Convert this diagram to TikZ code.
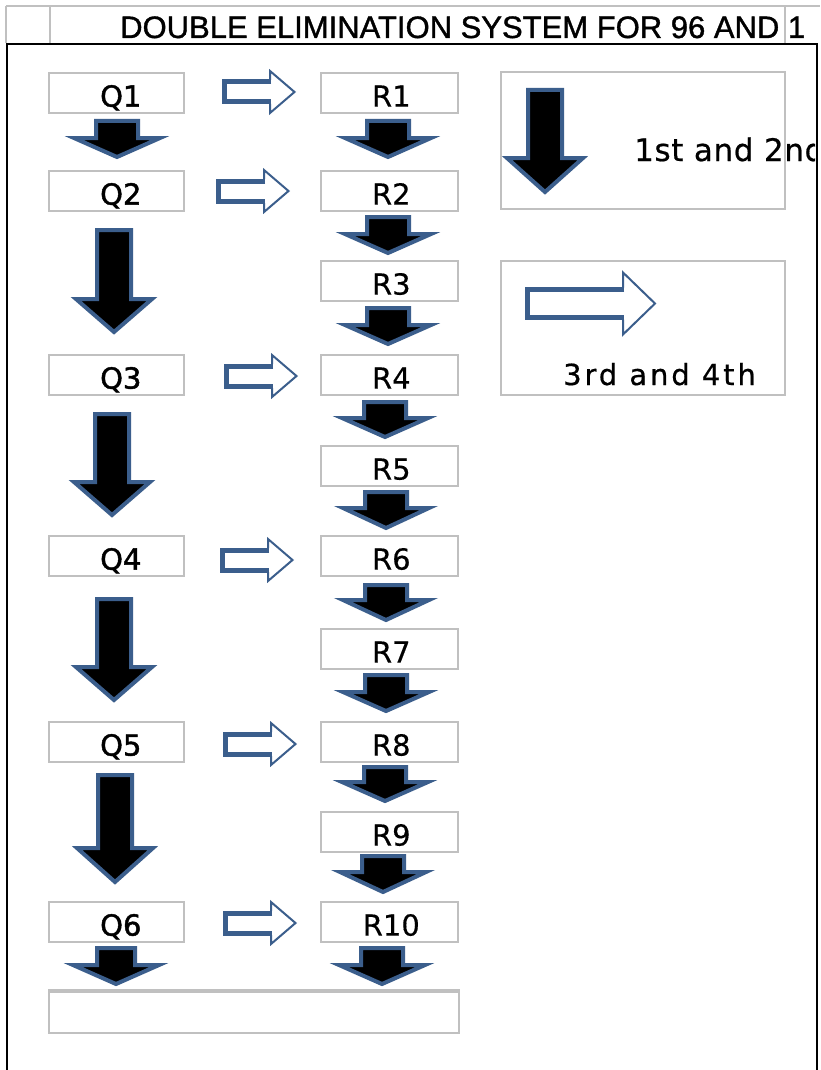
\documentclass[tikz,border=0pt]{standalone}
\usepackage{fontspec}
\setmainfont{DejaVu Sans}
\newfontfamily\titlefont[FakeBold=1.2]{Liberation Sans}
\newfontfamily\qfont[FakeBold=1.5]{DejaVu Sans}
\newfontfamily\rfont[FakeBold=0.4]{DejaVu Sans}
\newfontfamily\legfont[LetterSpace=2,FakeBold=0.6]{DejaVu Sans}
\newfontfamily\legspfont[LetterSpace=10,FakeBold=0.6]{DejaVu Sans}
\definecolor{arrblue}{RGB}{59,94,140}
\definecolor{cellgrey}{RGB}{192,192,192}
\tikzset{
  cellbox/.style={draw=cellgrey, line width=1.6pt, minimum height=40pt, inner sep=0pt, anchor=north west},
  qbox/.style={cellbox, minimum width=135pt},
  rbox/.style={cellbox, minimum width=137pt},
  qlabel/.style={anchor=base, inner sep=0pt, font=\qfont\fontsize{29}{34}\selectfont},
  rlabel/.style={anchor=base, inner sep=0pt, font=\rfont\fontsize{29}{34}\selectfont},
  blockdown/.style={draw=arrblue, fill=black, line width=4pt, line join=miter},
  pics/downarr/.style n args={4}{code={
    \draw[blockdown] (-#1,0) -- (#1,0) -- (#1,#2) -- (#3,#2) -- (0,#2+#4) -- (-#3,#2) -- (-#1,#2) -- cycle;
  }},
  pics/rightarr/.style n args={4}{code={
    \fill[white] (0,-#1) -- (#2,-#1) -- (#2,-#3) -- (#2+#4,0) -- (#2,#3) -- (#2,#1) -- (0,#1) -- cycle;
    \draw[arrblue, line width=2pt, line join=miter] (#2,-#1-2) -- (#2,-#3) -- (#2+#4,0) -- (#2,#3) -- (#2,#1+2);
    \draw[arrblue, line width=5pt, line join=miter] (#2+1,-#1) -- (0,-#1) -- (0,#1) -- (#2+1,#1);
  }}
}
\begin{document}
\begin{tikzpicture}[x=1pt, y=-1pt]
\useasboundingbox (0,0) rectangle (820,1070);
\fill[white] (0,0) rectangle (820,1070);

% header row
\draw[cellgrey, line width=1.5pt] (6,6) -- (820,6);
\draw[cellgrey, line width=1.5pt] (6,6) -- (6,43) (50,6) -- (50,43) (785,6) -- (785,43);
\node[anchor=base west, inner sep=0pt, font=\titlefont\fontsize{31}{36}\selectfont] (title) at (120,38) {DOUBLE ELIMINATION SYSTEM FOR 96 AND 1};

% outer frame
\draw[black, line width=2.5pt] (7,1070) -- (7,44) -- (817,44) -- (817,1070);

% Q column
\node[qbox] (Q1) at (48,72) {};
\node[qbox] (Q2) at (48,170) {};
\node[qbox] (Q3) at (48,354) {};
\node[qbox] (Q4) at (48,535) {};
\node[qbox] (Q5) at (48,721) {};
\node[qbox] (Q6) at (48,901) {};
\foreach \n in {1,...,6}{
  \node[qlabel] (Q\n t) at ([shift={(4.5,-7)}]Q\n.south) {Q\n};
}

% R column
\node[rbox] (R1) at (320,72) {};
\node[rbox] (R2) at (320,170) {};
\node[rbox] (R3) at (320,260) {};
\node[rbox] (R4) at (320,354) {};
\node[rbox] (R5) at (320,445) {};
\node[rbox] (R6) at (320,535) {};
\node[rbox] (R7) at (320,628) {};
\node[rbox] (R8) at (320,721) {};
\node[rbox] (R9) at (320,811) {};
\node[rbox] (R10) at (320,901) {};
\foreach \n in {1,...,10}{
  \node[rlabel] (R\n t) at ([shift={(2,-7)}]R\n.south) {R\n};
}

% bottom box
\node[cellbox, minimum width=410pt, minimum height=41pt] (final) at (48,991) {};
\draw[cellgrey, line width=3.5pt] (final.north west) -- (final.north east);

% right (hollow) arrows Q -> R
\pic at (224.5,92) {rightarr={10}{45.5}{21}{24.5}};
\pic at (218.5,191) {rightarr={10}{45.5}{21}{24.5}};
\pic at (226.5,376) {rightarr={10}{45.5}{21}{24.5}};
\pic at (222.5,560) {rightarr={10}{45.5}{21}{24.5}};
\pic at (225.5,744) {rightarr={10}{45.5}{21}{24.5}};
\pic at (225.5,923) {rightarr={10}{45.5}{21}{24.5}};

% small down arrows, Q column
\pic at (117,121) {downarr={21}{17}{43}{19}};
\pic at (116,948) {downarr={19}{17}{43}{19}};

% big down arrows, Q column
\pic at (114,230) {downarr={17}{69}{38}{33}};
\pic at (112,414) {downarr={17}{68}{38}{33}};
\pic at (114,599) {downarr={17}{68}{38}{33}};
\pic at (115,775) {downarr={17}{73}{38}{34}};

% small down arrows, R column
\pic at (388,121) {downarr={21}{17}{43}{19}};
\pic at (388,217) {downarr={21}{17}{43}{19}};
\pic at (388,308) {downarr={21}{17}{43}{19}};
\pic at (385,402) {downarr={21}{16}{43}{19}};
\pic at (386,492) {downarr={21}{16}{43}{20}};
\pic at (386,585) {downarr={21}{15}{43}{20}};
\pic at (386,675) {downarr={21}{17}{43}{19}};
\pic at (385,767) {downarr={21}{15}{43}{19}};
\pic at (383,856) {downarr={21}{16}{43}{20}};
\pic at (382,948) {downarr={21}{17}{43}{19}};

% legend
\begin{scope}
  \clip (0,0) rectangle (815,1070);
  \node[anchor=base west, inner sep=0pt, font=\legfont\fontsize{31}{36}\selectfont] (leg1t) at (634,161) {1st and 2nd};
\end{scope}
\node[cellbox, minimum width=284pt, minimum height=137pt] (leg1) at (500,71) {};
\pic at (545,90) {downarr={17}{68}{38}{34}};

\node[cellbox, minimum width=284pt, minimum height=134pt] (leg2) at (500,260) {};
\pic at (527.5,303.5) {rightarr={14}{95.5}{31}{32}};
\node[anchor=base west, inner sep=0pt, font=\legspfont\fontsize{29}{34}\selectfont] (leg2t) at (563,385) {3rd and 4th};
\end{tikzpicture}
\end{document}
